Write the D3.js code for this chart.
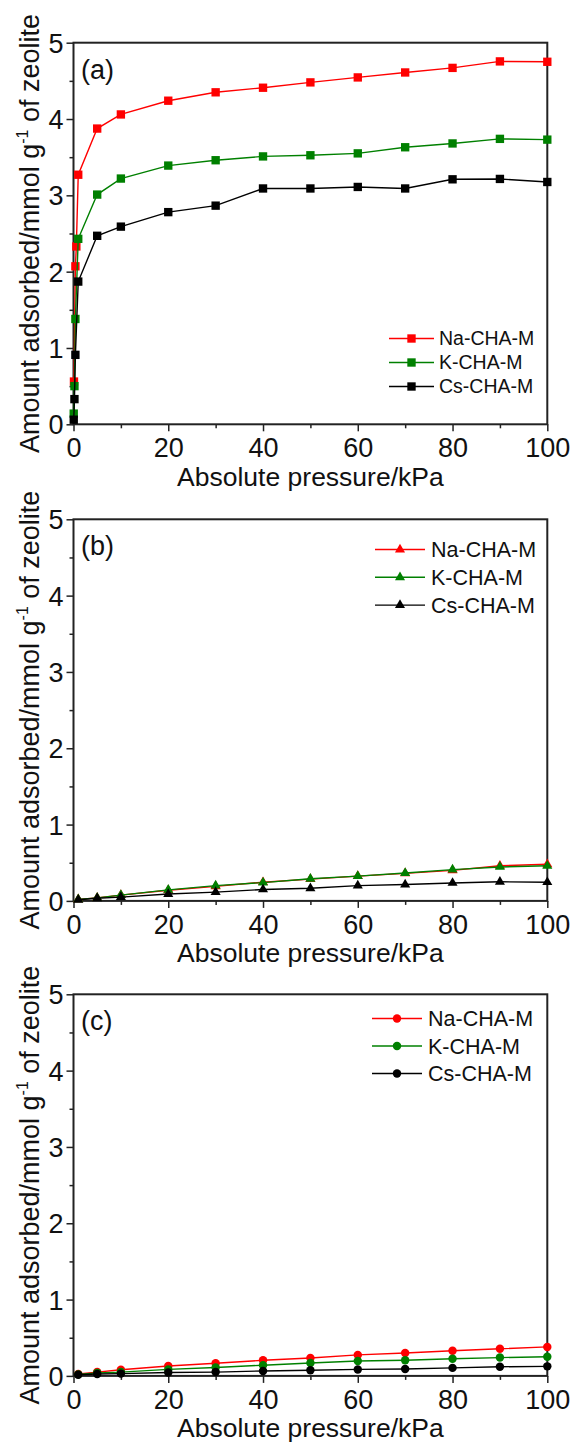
<!DOCTYPE html>
<html><head><meta charset="utf-8">
<script src="https://cdn.jsdelivr.net/npm/d3@7"></script>
<style>body{margin:0;background:#fff}svg text{font-family:"Liberation Sans",Arial,sans-serif;fill:#111}</style>
</head><body><svg id="c" width="574" height="1443"></svg>
<script>
// ---------- data ----------
const seriesNames = ["Na-CHA-M", "K-CHA-M", "Cs-CHA-M"];
const panelLabels = ["(a)", "(b)", "(c)"];
const xTicks = [0, 20, 40, 60, 80, 100];
const yTicks = [0, 1, 2, 3, 4, 5];
const xLabel = "Absolute pressure/kPa";

// panel (a): square markers
const aNaP = [0.1, 0.4, 0.6, 1, 5, 10, 20, 30, 40, 50, 60, 70, 80, 90, 100];
const aNaV = [0.56, 2.07, 2.33, 3.27, 3.875, 4.06, 4.24, 4.35, 4.41, 4.48, 4.545, 4.61, 4.67, 4.755, 4.75];
const aKP = [0.05, 0.2, 0.4, 1, 5, 10, 20, 30, 40, 50, 60, 70, 80, 90, 100];
const aKV = [0.14, 0.50, 1.38, 2.43, 3.01, 3.22, 3.39, 3.46, 3.51, 3.525, 3.55, 3.63, 3.68, 3.74, 3.73];
const aCsP = [0.05, 0.2, 0.4, 1, 5, 10, 20, 30, 40, 50, 60, 70, 80, 90, 100];
const aCsV = [0.06, 0.33, 0.91, 1.87, 2.47, 2.59, 2.78, 2.865, 3.09, 3.09, 3.11, 3.09, 3.21, 3.215, 3.175];

// panels (b) and (c): common pressures
const pHigh = [1, 5, 10, 20, 30, 40, 50, 60, 70, 80, 90, 100];
const bNaV = [0.02, 0.04, 0.075, 0.14, 0.19, 0.245, 0.285, 0.325, 0.36, 0.40, 0.46, 0.48];
const bKV  = [0.02, 0.04, 0.075, 0.145, 0.20, 0.24, 0.29, 0.325, 0.365, 0.41, 0.445, 0.46];
const bCsV = [0.015, 0.035, 0.05, 0.09, 0.115, 0.15, 0.165, 0.20, 0.215, 0.235, 0.25, 0.245];
const cNaV = [0.025, 0.05, 0.08, 0.13, 0.165, 0.205, 0.235, 0.275, 0.30, 0.33, 0.355, 0.38];
const cKV  = [0.02, 0.04, 0.05, 0.085, 0.11, 0.14, 0.17, 0.195, 0.205, 0.225, 0.24, 0.25];
const cCsV = [0.015, 0.025, 0.03, 0.045, 0.05, 0.065, 0.075, 0.085, 0.09, 0.105, 0.12, 0.125];

// ---------- styling ----------
const colors = ["#ff0000", "#008000", "#000000"];
const svg = d3.select("#c");
const plotLeft = 73.5, plotRight = 547.3, plotH = 381.6;
const panelTops = [42.7, 519.3, 994.3];
const FONT = '"Liberation Sans",Arial,sans-serif';

const panels = [
  { label: panelLabels[0], shape: d3.symbolSquare, size: 70,
    series: [[aNaP, aNaV], [aKP, aKV], [aCsP, aCsV]],
    legend: { x1: 389, x2: 434, tx: 439, y0: 338.5, dy: 24, fs: 19.5 } },
  { label: panelLabels[1], shape: d3.symbolTriangle, size: 44,
    series: [[pHigh, bNaV], [pHigh, bKV], [pHigh, bCsV]],
    legend: { x1: 375, x2: 425, tx: 431, y0: 549.5, dy: 27.8, fs: 21.5 } },
  { label: panelLabels[2], shape: d3.symbolCircle, size: 56,
    series: [[pHigh, cNaV], [pHigh, cKV], [pHigh, cCsV]],
    legend: { x1: 372, x2: 422, tx: 428, y0: 1018.5, dy: 27.5, fs: 21.5 } }
];

panels.forEach((p, pi) => {
  const top = panelTops[pi], bottom = top + plotH;
  const x = d3.scaleLinear().domain([0, 100]).range([plotLeft, plotRight]);
  const y = d3.scaleLinear().domain([0, 5]).range([bottom, top]);
  const g = svg.append("g");

  // minor ticks
  g.append("g").attr("transform", `translate(0,${bottom})`)
    .call(d3.axisBottom(x).tickValues([10, 30, 50, 70, 90]).tickSize(4).tickFormat(""))
    .call(a => a.select(".domain").remove())
    .call(a => a.selectAll("line").attr("stroke", "#222").attr("stroke-width", 1.5));
  g.append("g").attr("transform", `translate(${plotLeft},0)`)
    .call(d3.axisLeft(y).tickValues([0.5, 1.5, 2.5, 3.5, 4.5]).tickSize(4).tickFormat(""))
    .call(a => a.select(".domain").remove())
    .call(a => a.selectAll("line").attr("stroke", "#222").attr("stroke-width", 1.5));

  // major axes
  const xa = g.append("g").attr("transform", `translate(0,${bottom})`)
    .call(d3.axisBottom(x).tickValues(xTicks).tickSize(7).tickFormat(d3.format("d")));
  xa.select(".domain").remove();
  xa.selectAll("line").attr("stroke", "#222").attr("stroke-width", 1.5);
  xa.selectAll("text").attr("font-size", 27).attr("dy", null).attr("y", 33)
    .style("font-family", FONT).attr("fill", "#111");

  const ya = g.append("g").attr("transform", `translate(${plotLeft},0)`)
    .call(d3.axisLeft(y).tickValues(yTicks).tickSize(7).tickFormat(d3.format("d")));
  ya.select(".domain").remove();
  ya.selectAll("line").attr("stroke", "#222").attr("stroke-width", 1.5);
  ya.selectAll("text").attr("font-size", 27).attr("x", -10).attr("dy", "0.35em")
    .style("font-family", FONT).attr("fill", "#111");

  // frame
  g.append("rect").attr("x", plotLeft).attr("y", top)
    .attr("width", plotRight - plotLeft).attr("height", plotH)
    .attr("fill", "none").attr("stroke", "#222").attr("stroke-width", 2);

  // series
  const line = d3.line().x(d => x(d[0])).y(d => y(d[1]));
  p.series.forEach((s, si) => {
    const pts = s[0].map((pv, i) => [pv, s[1][i]]);
    g.append("path").datum(pts).attr("d", line)
      .attr("fill", "none").attr("stroke", colors[si]).attr("stroke-width", 1.4);
    g.selectAll(null).data(pts).enter().append("path")
      .attr("d", d3.symbol().type(p.shape).size(p.size))
      .attr("transform", d => `translate(${x(d[0])},${y(d[1])})`)
      .attr("fill", colors[si]);
  });

  // legend
  const L = p.legend;
  seriesNames.forEach((name, si) => {
    const ly = L.y0 + si * L.dy;
    g.append("line").attr("x1", L.x1).attr("x2", L.x2).attr("y1", ly).attr("y2", ly)
      .attr("stroke", colors[si]).attr("stroke-width", 1.4);
    g.append("path").attr("d", d3.symbol().type(p.shape).size(p.size))
      .attr("transform", `translate(${(L.x1 + L.x2) / 2},${ly})`).attr("fill", colors[si]);
    g.append("text").attr("x", L.tx).attr("y", ly).attr("dy", "0.35em")
      .attr("font-size", L.fs).text(name);
  });

  // panel label
  g.append("text").attr("x", 81).attr("y", top + 36).attr("font-size", 27).text(p.label);

  // x title
  g.append("text").attr("x", (plotLeft + plotRight) / 2).attr("y", bottom + 61.5)
    .attr("text-anchor", "middle").attr("font-size", 26.5).text(xLabel);

  // y title
  const yt = g.append("text").attr("text-anchor", "middle").attr("font-size", 27)
    .attr("transform", `translate(39,${(top + bottom) / 2}) rotate(-90)`);
  yt.append("tspan").text("Amount adsorbed/mmol g");
  yt.append("tspan").attr("font-size", 16).attr("dy", -11).text("-1");
  yt.append("tspan").attr("dy", 11).text(" of zeolite");
});
</script></body></html>
